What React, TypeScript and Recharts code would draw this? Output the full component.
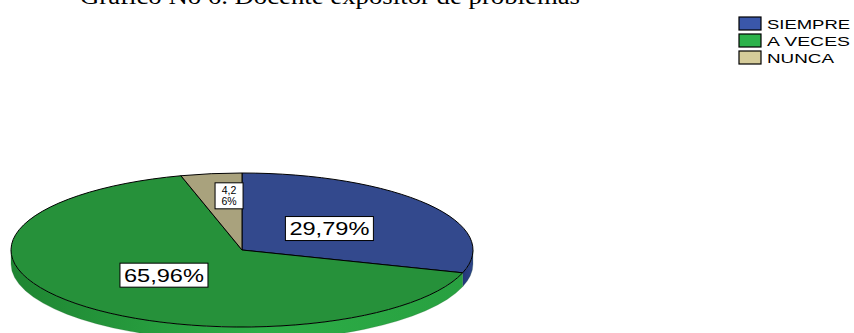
import { PieChart, Pie, Cell, Legend } from "recharts";

const title = "Gráfico No 6. Docente expositor de problemas";
const categories = ["SIEMPRE", "A VECES", "NUNCA"];
const percents = [29.79, 65.96, 4.26];

const topColors = ["#33498d", "#26913a", "#a9a27d"];
const sideFills = ["url(#side0)", "url(#side1)", "url(#side2)"];
const legendColors = ["#3a57aa", "#2cb24a", "#d6cc9a"];

const data = categories.map((name, i) => ({ name, value: percents[i] }));

const RAD = Math.PI / 180;
const SQUASH = 77 / 231; // vertical flattening of the pie
const DEPTH = 14;

const pt = (cx: number, cy: number, rx: number, ry: number, a: number, dy = 0) =>
  `${cx + rx * Math.cos(a * RAD)},${cy - ry * Math.sin(a * RAD) + dy}`;

// draws each sector as a flattened "3d" wedge
const Slice3D = (props: any) => {
  const { cx, cy, outerRadius, startAngle, endAngle, fill } = props;
  const idx = categories.indexOf(props.payload?.name ?? props.name);
  const rx = outerRadius;
  const ry = outerRadius * SQUASH;
  const hi = Math.max(startAngle, endAngle);
  const lo = Math.min(startAngle, endAngle);
  const large = hi - lo > 180 ? 1 : 0;
  const top = `M${cx},${cy} L${pt(cx, cy, rx, ry, hi)} A${rx},${ry} 0 ${large} 1 ${pt(cx, cy, rx, ry, lo)} Z`;

  const sides: string[] = [];
  for (const [a, b] of [[-540, -360], [-180, 0], [180, 360]]) {
    const l = Math.max(lo, a);
    const h = Math.min(hi, b);
    if (h > l) {
      sides.push(
        `M${pt(cx, cy, rx, ry, h)} A${rx},${ry} 0 0 1 ${pt(cx, cy, rx, ry, l)} ` +
          `L${pt(cx, cy, rx, ry, l, DEPTH)} A${rx},${ry} 0 0 0 ${pt(cx, cy, rx, ry, h, DEPTH)} Z`
      );
    }
  }

  return (
    <g>
      {sides.map((d, i) => (
        <path key={i} d={d} fill={sideFills[idx]} stroke="#1c5a26" strokeOpacity={0.35} strokeWidth={0.6} />
      ))}
      <path d={top} fill={fill} stroke="#000" strokeWidth={1} strokeLinejoin="round" />
    </g>
  );
};

const renderLabel = (props: any) => {
  const { cx, cy, midAngle, outerRadius, value } = props;
  const small = value < 10;
  const fx = small ? 0.42 : 0.47;
  const fy = small ? 0.71 : 0.47;
  const x = cx + outerRadius * fx * Math.cos(midAngle * RAD);
  const y = cy - outerRadius * SQUASH * fy * Math.sin(midAngle * RAD);
  const txt = value.toFixed(2).replace(".", ",") + "%";
  if (small) {
    return (
      <g>
        <rect x={x - 14} y={y - 13} width={28} height={26} fill="#fff" stroke="#000" strokeWidth={1} />
        <text x={x} y={y - 1.5} textAnchor="middle" fontFamily="Arial, Liberation Sans" fontSize={10.5} fill="#000">
          {txt.slice(0, 3)}
        </text>
        <text x={x} y={y + 9.5} textAnchor="middle" fontFamily="Arial, Liberation Sans" fontSize={10.5} fill="#000">
          {txt.slice(3)}
        </text>
      </g>
    );
  }
  return (
    <g>
      <rect x={x - 44} y={y - 12} width={88} height={24} fill="#fff" stroke="#000" strokeWidth={1} />
      <text
        x={x}
        y={y + 6.5}
        textAnchor="middle"
        fontFamily="Arial, Liberation Sans"
        fontSize={18}
        textLength={80}
        lengthAdjust="spacingAndGlyphs"
        fill="#000"
      >
        {txt}
      </text>
    </g>
  );
};

const legendWidths = [83, 83, 67];

const renderLegend = () => (
  <svg width={118} height={62}>
    {categories.map((c, i) => (
      <g key={c}>
        <rect x={1} y={3 + i * 17} width={22} height={13} fill={legendColors[i]} stroke="#000" strokeWidth={1.2} />
        <text
          x={29}
          y={14.5 + i * 17}
          fontFamily="Arial, Liberation Sans"
          fontSize={13.5}
          textLength={legendWidths[i]}
          lengthAdjust="spacingAndGlyphs"
          fill="#000"
        >
          {c}
        </text>
      </g>
    ))}
  </svg>
);

export default function App() {
  return (
    <div style={{ position: "absolute", left: 0, top: 0, width: 854, height: 333, background: "#fff", overflow: "hidden" }}>
      <svg width={854} height={30} style={{ position: "absolute", left: 0, top: 0 }}>
        <text
          x={80}
          y={4}
          fontFamily="Liberation Serif, Times New Roman, serif"
          fontSize={23}
          textLength={500}
          lengthAdjust="spacingAndGlyphs"
          fill="#000"
        >
          {title}
        </text>
      </svg>
      <PieChart width={854} height={333} margin={{ top: 0, right: 0, bottom: 0, left: 0 }}>
        <defs>
          <linearGradient id="side0" x1="0" y1="0" x2="1" y2="0">
            <stop offset="0" stopColor="#24377a" />
            <stop offset="1" stopColor="#2f4587" />
          </linearGradient>
          <linearGradient id="side1" x1="0" y1="0" x2="1" y2="0">
            <stop offset="0" stopColor="#1f8532" />
            <stop offset="0.55" stopColor="#2cae47" />
            <stop offset="1" stopColor="#28a040" />
          </linearGradient>
          <linearGradient id="side2" x1="0" y1="0" x2="1" y2="0">
            <stop offset="0" stopColor="#8f885f" />
            <stop offset="1" stopColor="#a39b74" />
          </linearGradient>
        </defs>
        <Pie
          data={data}
          dataKey="value"
          nameKey="name"
          cx={242}
          cy={250}
          outerRadius={231}
          startAngle={90}
          endAngle={-270}
          stroke="#000"
          labelLine={false}
          label={renderLabel}
          shape={Slice3D}
          activeShape={Slice3D}
          inactiveShape={Slice3D}
          isAnimationActive={false}
        >
          {data.map((d, i) => (
            <Cell key={d.name} fill={topColors[i]} />
          ))}
        </Pie>
        <Legend
          content={renderLegend}
          wrapperStyle={{ position: "absolute", left: 738, top: 14, width: 118, height: 62 }}
        />
      </PieChart>
    </div>
  );
}
